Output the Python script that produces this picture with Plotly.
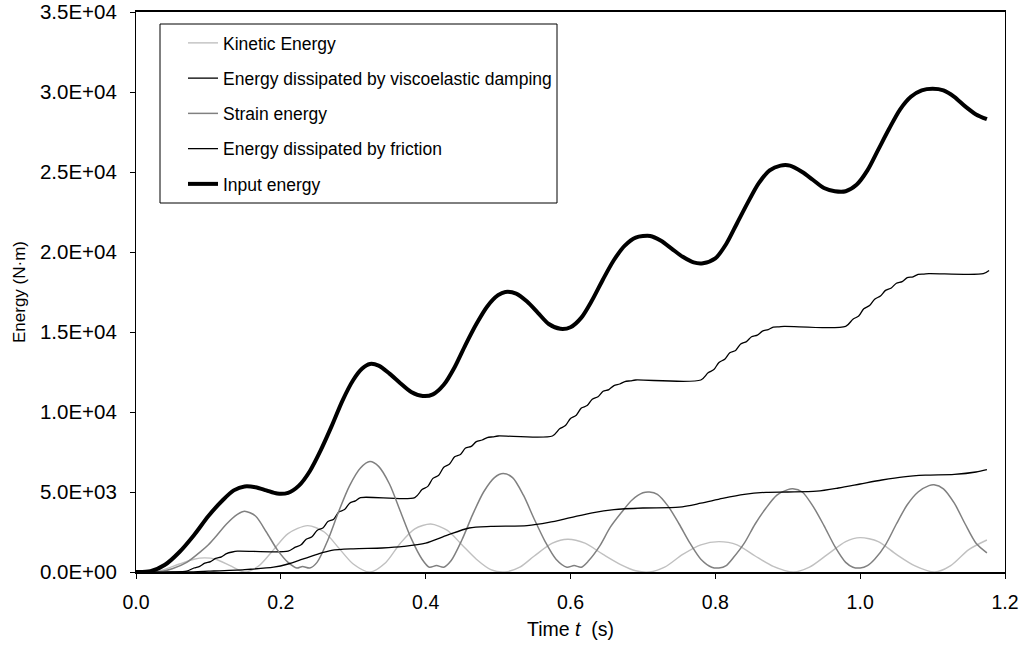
import plotly.graph_objects as go

# ---- data ----
t_input = [0, 0.02, 0.04, 0.06, 0.08, 0.10, 0.12, 0.135, 0.15, 0.165, 0.18, 0.195, 0.21, 0.225, 0.24,
           0.255, 0.27, 0.285, 0.30, 0.312, 0.323, 0.335, 0.35, 0.365, 0.38, 0.396, 0.41, 0.425,
           0.44, 0.455, 0.47, 0.485, 0.50, 0.51, 0.525, 0.54, 0.555, 0.57, 0.586, 0.60, 0.615,
           0.63, 0.645, 0.66, 0.675, 0.69, 0.71, 0.725, 0.74, 0.755, 0.77, 0.783, 0.80, 0.815,
           0.83, 0.845, 0.86, 0.875, 0.89, 0.903, 0.92, 0.935, 0.95, 0.965, 0.98, 0.995, 1.01,
           1.025, 1.04, 1.055, 1.07, 1.085, 1.10, 1.115, 1.13, 1.145, 1.16, 1.175]
e_input = [0, 50, 450, 1250, 2300, 3500, 4500, 5100, 5350, 5300, 5100, 4900, 4950, 5400, 6300,
           7600, 9100, 10700, 12000, 12700, 13000, 12900, 12400, 11800, 11250, 11000, 11100, 11700,
           12800, 14200, 15500, 16600, 17300, 17500, 17400, 16900, 16200, 15500, 15200, 15300, 15900,
           17000, 18300, 19500, 20400, 20900, 21000, 20700, 20200, 19700, 19350, 19300, 19600, 20500,
           21800, 23100, 24300, 25100, 25400, 25400, 25000, 24500, 24000, 23800, 23800, 24200, 25100,
           26400, 27700, 28900, 29700, 30100, 30200, 30100, 29700, 29100, 28600, 28300]

t_visco = [0, 0.05, 0.07, 0.08, 0.088, 0.095, 0.103, 0.11, 0.118, 0.125, 0.133, 0.14, 0.21,
           0.22, 0.228, 0.235, 0.243, 0.25, 0.258, 0.265, 0.273, 0.28, 0.288, 0.295, 0.303, 0.31, 0.385,
           0.395, 0.403, 0.41, 0.418, 0.425, 0.433, 0.44, 0.448, 0.455, 0.463, 0.47, 0.478, 0.485, 0.493, 0.50, 0.575,
           0.585, 0.593, 0.60, 0.608, 0.615, 0.623, 0.63, 0.638, 0.645, 0.653, 0.66, 0.668, 0.675, 0.683, 0.69, 0.78,
           0.79, 0.798, 0.805, 0.813, 0.82, 0.828, 0.835, 0.843, 0.85, 0.858, 0.865, 0.873, 0.88, 0.888, 0.895, 0.98,
           0.99, 0.998, 1.005, 1.013, 1.02, 1.028, 1.035, 1.043, 1.05, 1.058, 1.065, 1.073, 1.08, 1.088, 1.095, 1.17, 1.178]
e_visco = [0, 0, 50, 250, 350, 550, 650, 850, 950, 1150, 1250, 1300, 1300,
           1550, 1700, 2050, 2200, 2600, 2750, 3150, 3300, 3750, 3900, 4300, 4450, 4650, 4650,
           5150, 5350, 5850, 6050, 6550, 6750, 7200, 7350, 7750, 7850, 8150, 8250, 8400, 8450, 8500, 8500,
           8950, 9150, 9600, 9800, 10250, 10400, 10800, 10950, 11300, 11400, 11650, 11750, 11900, 11950, 12000, 12000,
           12450, 12650, 13100, 13300, 13700, 13850, 14250, 14400, 14700, 14800, 15050, 15150, 15300, 15320, 15350, 15350,
           15800, 16000, 16450, 16650, 17050, 17250, 17600, 17750, 18050, 18150, 18400, 18450, 18600, 18620, 18650, 18650, 18850]

t_kin = [0, 0.03, 0.06, 0.08, 0.095, 0.11, 0.13, 0.15, 0.17, 0.19, 0.21, 0.237, 0.26, 0.28, 0.30, 0.323,
         0.345, 0.365, 0.385, 0.407, 0.43, 0.45, 0.47, 0.49, 0.509, 0.53, 0.55, 0.575, 0.596, 0.62, 0.645,
         0.67, 0.69, 0.709, 0.73, 0.755, 0.78, 0.805, 0.83, 0.855, 0.88, 0.908, 0.93, 0.955, 0.98, 1.0,
         1.025, 1.05, 1.075, 1.103, 1.125, 1.15, 1.175]
e_kin = [0, 50, 500, 800, 880, 800, 400, 0, 400, 1400, 2400, 2900, 2500, 1500, 500, 0,
         600, 1800, 2700, 3000, 2600, 1700, 800, 150, 0, 300, 1000, 1800, 2050, 1800, 1100,
         450, 80, 0, 300, 1100, 1700, 1900, 1700, 1000, 350, 0, 300, 1100, 1900, 2150,
         1900, 1100, 400, 0, 400, 1400, 2000]

t_strain = [0, 0.03, 0.05, 0.07, 0.09, 0.10, 0.11, 0.125, 0.14, 0.15, 0.165, 0.18, 0.195, 0.21, 0.222,
            0.23, 0.24, 0.25, 0.265, 0.28, 0.295, 0.31, 0.323, 0.335, 0.35, 0.365, 0.38, 0.395, 0.405,
            0.415, 0.425, 0.435, 0.45, 0.465, 0.48, 0.495, 0.507, 0.52, 0.535, 0.55, 0.565, 0.58, 0.595,
            0.605, 0.615, 0.625, 0.64, 0.655, 0.67, 0.685, 0.70, 0.709, 0.72, 0.735, 0.75, 0.765, 0.78,
            0.795, 0.805, 0.815, 0.825, 0.84, 0.855, 0.87, 0.885, 0.90, 0.907, 0.92, 0.935, 0.95, 0.965,
            0.98, 0.99, 1.0, 1.01, 1.02, 1.035, 1.05, 1.065, 1.08, 1.095, 1.102, 1.115, 1.13, 1.145,
            1.16, 1.175]
e_strain = [0, 0, 200, 600, 1300, 1700, 2200, 3000, 3600, 3800, 3500, 2500, 1400, 600, 250,
            350, 250, 600, 2000, 3800, 5400, 6500, 6900, 6600, 5500, 3800, 2100, 800, 300,
            400, 300, 700, 2000, 3600, 5000, 5900, 6150, 5900, 4800, 3300, 1900, 800, 300,
            400, 300, 700, 1600, 2800, 3700, 4500, 4950, 5000, 4850, 4100, 3000, 1800, 800,
            300, 250, 400, 900, 1800, 3000, 4000, 4800, 5150, 5200, 5000, 4100, 2900, 1600,
            600, 300, 250, 400, 800, 1700, 3000, 4200, 5000, 5400, 5450, 5200, 4300, 3000,
            1800, 1200]

t_fric = [0, 0.07, 0.10, 0.15, 0.19, 0.21, 0.23, 0.25, 0.27, 0.30, 0.34, 0.37, 0.40, 0.43, 0.46,
          0.49, 0.54, 0.57, 0.60, 0.63, 0.66, 0.70, 0.75, 0.78, 0.81, 0.84, 0.87, 0.90, 0.94, 0.97,
          1.0, 1.03, 1.06, 1.09, 1.13, 1.16, 1.175]
e_fric = [0, 0, 50, 150, 300, 500, 800, 1100, 1350, 1450, 1500, 1600, 1800, 2300, 2750,
          2850, 2900, 3100, 3400, 3700, 3900, 4000, 4050, 4300, 4600, 4850, 4980, 5000, 5050, 5250,
          5500, 5750, 5950, 6050, 6100, 6250, 6400]

y_tickvals = [0, 5000, 10000, 15000, 20000, 25000, 30000, 35000]
y_ticktext = ["0.0E+00", "5.0E+03", "1.0E+04", "1.5E+04", "2.0E+04", "2.5E+04", "3.0E+04", "3.5E+04"]
x_tickvals = [0.0, 0.2, 0.4, 0.6, 0.8, 1.0, 1.2]
x_ticktext = ["0.0", "0.2", "0.4", "0.6", "0.8", "1.0", "1.2"]

FONT = "Arial, Liberation Sans, sans-serif"

# plot area in pixels: x 136..1005, y 12..572
L, R, T, B = 136, 15, 12, 74
W, H = 1020, 646
pw, ph = W - L - R, H - T - B

def px(xp):
    return (xp - L) / pw

def py(yp):
    return 1 - (yp - T) / ph

fig = go.Figure()
series = [
    ("Kinetic Energy", t_kin, e_kin, "#c0c0c0", 1.4),
    ("Energy dissipated by viscoelastic damping", t_visco, e_visco, "#000000", 1.3),
    ("Strain energy", t_strain, e_strain, "#808080", 1.5),
    ("Energy dissipated by friction", t_fric, e_fric, "#000000", 1.3),
    ("Input energy", t_input, e_input, "#000000", 4),
]
for i, (name, x, y, c, w) in enumerate(series):
    fig.add_trace(go.Scatter(x=x, y=y, name=name, mode="lines", legendgroup=f"g{i}",
                             line=dict(color=c, width=w, shape="spline", smoothing=0.8)))

# legend frame
fig.add_shape(type="rect", xref="paper", yref="paper",
              x0=px(160), x1=px(557), y0=py(203), y1=py(24),
              line=dict(color="black", width=1), fillcolor="white", layer="below")

fig.update_layout(
    width=W, height=H,
    margin=dict(l=L, r=R, t=T, b=B, autoexpand=False),
    paper_bgcolor="white", plot_bgcolor="white",
    font=dict(family=FONT, size=19, color="black"),
    showlegend=True,
    legend=dict(x=px(183), y=py(25), xanchor="left", yanchor="top",
                borderwidth=0, bgcolor="rgba(0,0,0,0)",
                font=dict(size=17.5), tracegroupgap=9.5, itemwidth=30),
)
fig.update_xaxes(range=[0, 1.2], tickvals=x_tickvals, ticktext=x_ticktext, automargin=False,
                 showgrid=False, zeroline=False, showline=True, linecolor="black", linewidth=1.5,
                 mirror=True, ticks="outside", ticklen=5, tickcolor="black",
                 ticklabelstandoff=7, tickfont=dict(size=19.5),
                 title=dict(text="Time <i>t</i>  (s)", font=dict(size=19.5), standoff=10))
fig.update_yaxes(range=[0, 35000], tickvals=y_tickvals, ticktext=y_ticktext, automargin=False,
                 showgrid=False, zeroline=False, showline=True, linecolor="black", linewidth=1,
                 mirror=True, ticks="outside", ticklen=5, tickcolor="black",
                 ticklabelstandoff=9, tickfont=dict(size=20.5),
                 title=dict(text="Energy (N·m)", font=dict(size=17), standoff=9))

fig.write_html("out.html", config={"displayModeBar": False})

with open("out.html", "r", encoding="utf-8") as f:
    html = f.read()
html = html.replace("<body>", '<body style="margin:0;overflow:hidden">', 1)
with open("out.html", "w", encoding="utf-8") as f:
    f.write(html)
